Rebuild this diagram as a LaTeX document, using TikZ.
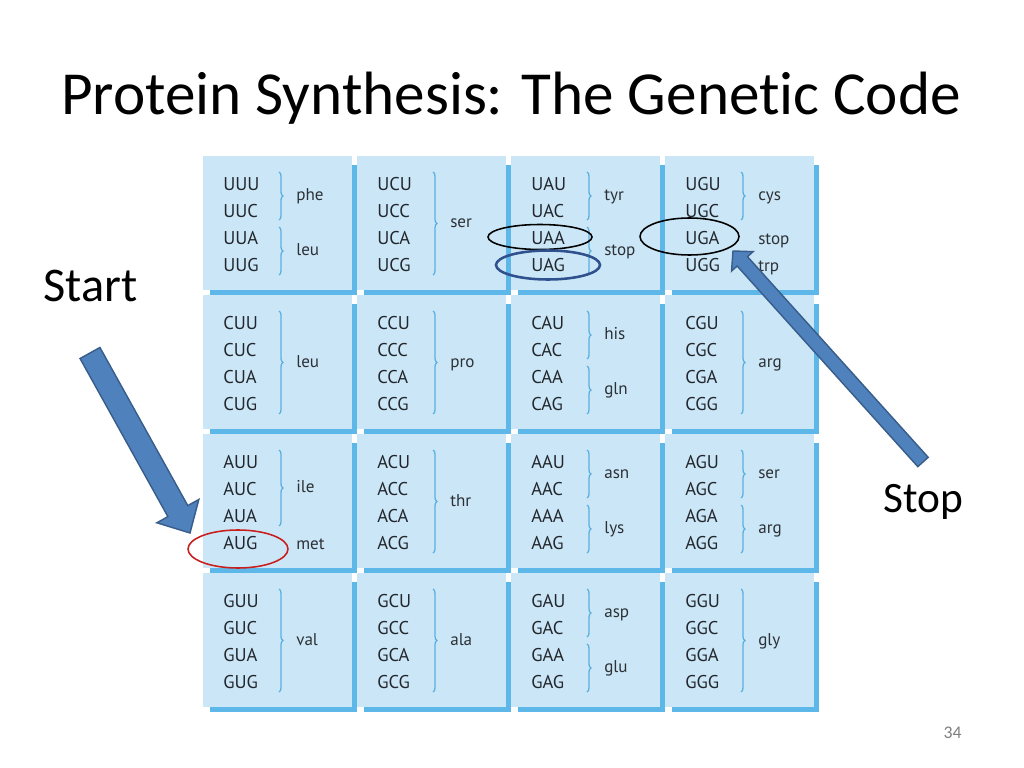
\documentclass[tikz,border=0pt]{standalone}
\usepackage{fontspec}
\setmainfont{Carlito}[Ligatures={NoCommon,NoContextual}]
\newfontfamily\codonfont{PT Sans}
\usetikzlibrary{calc,shapes.geometric,decorations.pathreplacing}

\newlength{\du}
\setlength{\du}{0.703125pt}

\definecolor{celllight}{RGB}{203,231,247}
\definecolor{celledge}{RGB}{94,183,233}
\definecolor{braceblue}{RGB}{90,175,225}
\definecolor{codontext}{RGB}{35,39,45}
\definecolor{acidtext}{RGB}{45,49,54}
\definecolor{arrowfill}{RGB}{79,129,189}
\definecolor{arrowedge}{RGB}{56,93,138}
\definecolor{ringred}{RGB}{200,30,30}
\definecolor{ringblue}{RGB}{47,82,143}

\tikzset{
  boxfill/.style={fill=celllight},
  boxedge/.style={fill=celledge},
  codon/.style={anchor=base west, inner sep=0pt, text=codontext,
    font=\codonfont\fontsize{13}{15}\selectfont},
  acid/.style={anchor=base west, inner sep=0pt, text=acidtext,
    font=\codonfont\fontsize{12}{14}\selectfont},
  codonbrace/.style={draw=braceblue, line width=0.9pt, decorate,
    decoration={brace, amplitude=2.8pt}},
  ring/.style={ellipse, inner sep=0pt, line width=1.1pt},
  blockarrow/.style={fill=arrowfill, draw=arrowedge, line width=1pt, line join=miter},
  slidetext/.style={inner sep=0pt, text=black}
}

% one box of the table: name, left, top, four codons
\newcommand{\codoncell}[7]{%
\begin{scope}[shift={(#2\du,#3\du)}]
\fill[boxfill] (0\du,0\du) rectangle (149\du,134\du);
\fill[boxedge] (149\du,9\du) rectangle (154\du,139\du);
\fill[boxedge] (7\du,134\du) rectangle (154\du,139\du);
\coordinate (#1) at (0\du,0\du);
\node[codon] (#4) at (20\du,34.5\du) {#4};
\node[codon] (#5) at (20\du,61.5\du) {#5};
\node[codon] (#6) at (20\du,88.5\du) {#6};
\node[codon] (#7) at (20\du,115.5\du) {#7};
\end{scope}}

% brace over codons and its amino acid: name, left, top, from, to, text
\newcommand{\acid}[6]{%
\begin{scope}[shift={(#2\du,#3\du)}]
\pgfmathsetmacro{\acidy}{(#4+#5)/2+4.5}
\draw[codonbrace] (76\du,#4\du) -- (76\du,#5\du);
\node[acid] (#1) at (93\du,\acidy\du) {#6};
\end{scope}}

% amino acid of a single codon, no brace: name, left, top, baseline, text
\newcommand{\loneacid}[5]{%
\begin{scope}[shift={(#2\du,#3\du)}]
\node[acid] (#1) at (93\du,#4\du) {#5};
\end{scope}}

\begin{document}
\begin{tikzpicture}[yscale=-1]
\fill[white] (0\du,0\du) rectangle (1024\du,768\du);
\useasboundingbox (0\du,0\du) rectangle (1024\du,768\du);

\node[slidetext, anchor=base, font=\fontsize{43}{50}\selectfont] (title) at (511\du,115\du) {Protein Synthesis: The Gene{}tic Code};

% first base U
\codoncell{boxuu}{203}{156}{UUU}{UUC}{UUA}{UUG}
\acid{phe}{203}{156}{16}{64}{phe}
\acid{leuone}{203}{156}{71}{119}{leu}
\codoncell{boxuc}{357}{156}{UCU}{UCC}{UCA}{UCG}
\acid{serone}{357}{156}{16}{119}{ser}
\codoncell{boxua}{511}{156}{UAU}{UAC}{UAA}{UAG}
\acid{tyr}{511}{156}{16}{64}{tyr}
\acid{stopone}{511}{156}{71}{119}{stop}
\codoncell{boxug}{665}{156}{UGU}{UGC}{UGA}{UGG}
\acid{cys}{665}{156}{16}{64}{cys}
\loneacid{stoptwo}{665}{156}{88.5}{stop}
\loneacid{trp}{665}{156}{115.5}{trp}

% first base C
\codoncell{boxcu}{203}{295}{CUU}{CUC}{CUA}{CUG}
\acid{leutwo}{203}{295}{16}{119}{leu}
\codoncell{boxcc}{357}{295}{CCU}{CCC}{CCA}{CCG}
\acid{pro}{357}{295}{16}{119}{pro}
\codoncell{boxca}{511}{295}{CAU}{CAC}{CAA}{CAG}
\acid{his}{511}{295}{16}{64}{his}
\acid{gln}{511}{295}{71}{119}{gln}
\codoncell{boxcg}{665}{295}{CGU}{CGC}{CGA}{CGG}
\acid{argone}{665}{295}{16}{119}{arg}

% first base A
\codoncell{boxau}{203}{434}{AUU}{AUC}{AUA}{AUG}
\acid{ile}{203}{434}{16}{92}{ile}
\loneacid{met}{203}{434}{115.5}{met}
\codoncell{boxac}{357}{434}{ACU}{ACC}{ACA}{ACG}
\acid{thr}{357}{434}{16}{119}{thr}
\codoncell{boxaa}{511}{434}{AAU}{AAC}{AAA}{AAG}
\acid{asn}{511}{434}{16}{64}{asn}
\acid{lys}{511}{434}{71}{119}{lys}
\codoncell{boxag}{665}{434}{AGU}{AGC}{AGA}{AGG}
\acid{sertwo}{665}{434}{16}{64}{ser}
\acid{argtwo}{665}{434}{71}{119}{arg}

% first base G
\codoncell{boxgu}{203}{573}{GUU}{GUC}{GUA}{GUG}
\acid{val}{203}{573}{16}{119}{val}
\codoncell{boxgc}{357}{573}{GCU}{GCC}{GCA}{GCG}
\acid{ala}{357}{573}{16}{119}{ala}
\codoncell{boxga}{511}{573}{GAU}{GAC}{GAA}{GAG}
\acid{asp}{511}{573}{16}{64}{asp}
\acid{glu}{511}{573}{71}{119}{glu}
\codoncell{boxgg}{665}{573}{GGU}{GGC}{GGA}{GGG}
\acid{gly}{665}{573}{16}{119}{gly}

% rings round start and stop codons
\node[ring, draw=ringred, minimum width=100\du, minimum height=38\du] (augring) at (238\du,549\du) {};
\node[ring, draw=black, minimum width=104\du, minimum height=25\du] (uaaring) at (540\du,237\du) {};
\node[ring, draw=ringblue, line width=1.8pt, minimum width=104\du, minimum height=29\du] (uagring) at (548\du,265\du) {};
\node[ring, draw=black, minimum width=99\du, minimum height=37\du] (ugaring) at (689.5\du,236.5\du) {};

\node[slidetext, anchor=base west, font=\fontsize{34}{40}\selectfont] (startlabel) at (43\du,302\du) {Start};
\node[slidetext, anchor=base west, font=\fontsize{30.5}{36}\selectfont] (stoplabel) at (883\du,512\du) {Stop};

% block arrows
\coordinate (starttail) at (90\du,353\du);
\coordinate (starttip) at (190\du,533\du);
\coordinate (starthead) at ($(starttip)!17.6pt!(starttail)$);
\filldraw[blockarrow] ($(starttail)!8pt!90:(starttip)$) -- ($(starthead)!8pt!90:(starttip)$)
  -- ($(starthead)!16.9pt!90:(starttip)$) -- (starttip) -- ($(starthead)!16.9pt!-90:(starttip)$)
  -- ($(starthead)!8pt!-90:(starttip)$) -- ($(starttail)!8pt!-90:(starttip)$) -- cycle;

\coordinate (stoptail) at (923\du,462\du);
\coordinate (stoptip) at (733\du,251\du);
\coordinate (stophead) at ($(stoptip)!9.8pt!(stoptail)$);
\filldraw[blockarrow] ($(stoptail)!4.9pt!90:(stoptip)$) -- ($(stophead)!4.9pt!90:(stoptip)$)
  -- ($(stophead)!10.2pt!90:(stoptip)$) -- (stoptip) -- ($(stophead)!10.2pt!-90:(stoptip)$)
  -- ($(stophead)!4.9pt!-90:(stoptip)$) -- ($(stoptail)!4.9pt!-90:(stoptip)$) -- cycle;

\node[slidetext, anchor=base east, text=black!50, font=\fontsize{12.5}{15}\selectfont] (pagenum) at (962\du,738\du) {34};
\end{tikzpicture}
\end{document}
